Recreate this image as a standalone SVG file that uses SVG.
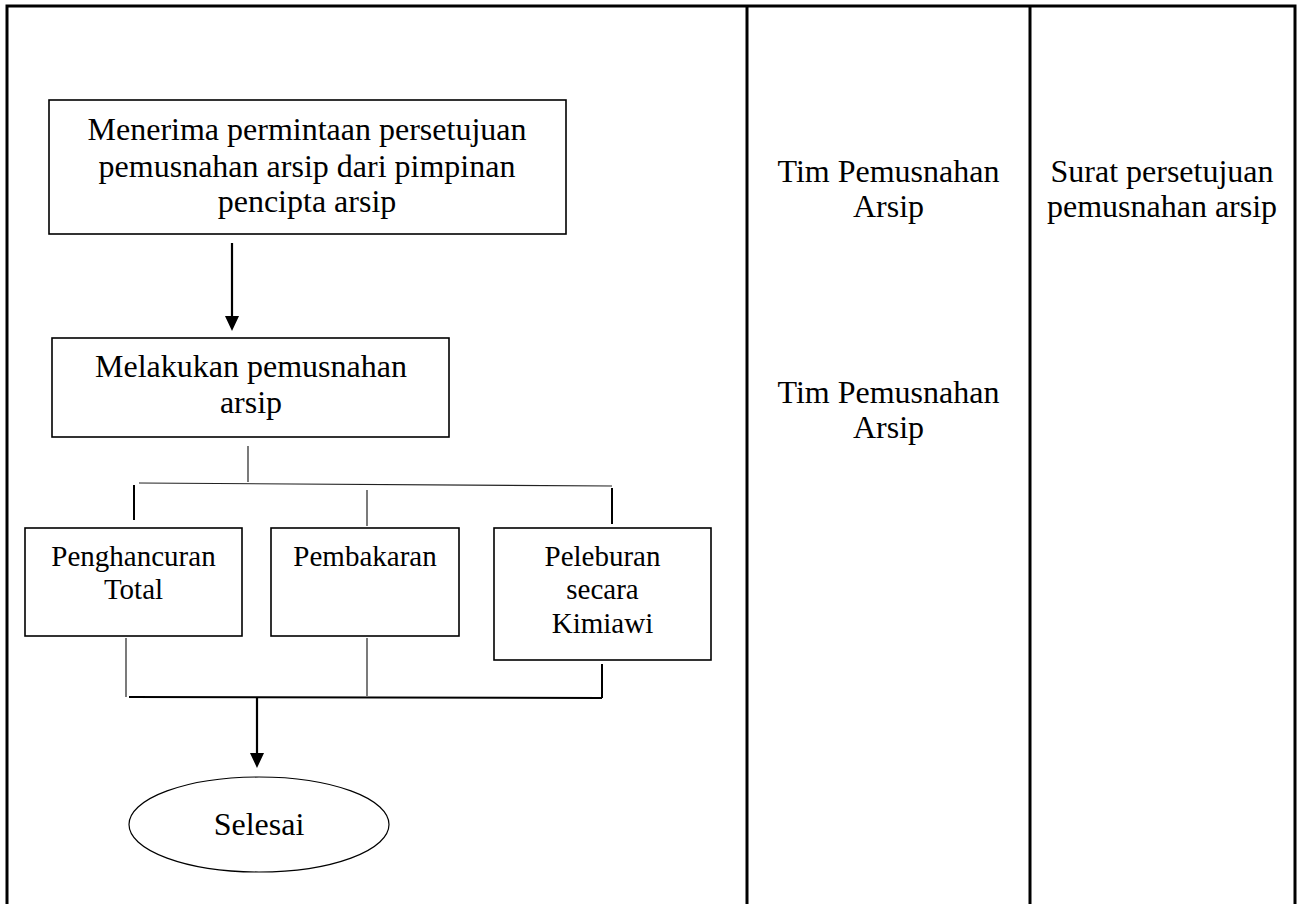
<svg xmlns="http://www.w3.org/2000/svg" width="1300" height="904" viewBox="0 0 1300 904">
<style>
  text { font-family: "Liberation Serif", "Times New Roman", serif; fill: #000; text-anchor: middle; }
  .t32 { font-size: 32px; }
  .t29 { font-size: 29px; }
  .box { fill: #fff; stroke: #000; stroke-width: 1.6; }
  .frame { fill: none; stroke: #000; stroke-width: 3; }
  .thin { fill: none; stroke: #222; stroke-width: 1.2; }
  .mid { fill: none; stroke: #000; stroke-width: 2; }
  .arrow { fill: none; stroke: #000; stroke-width: 2.2; }
</style>
<defs>
  <marker id="ah" markerWidth="14" markerHeight="15" refX="7" refY="0" orient="0" markerUnits="userSpaceOnUse" overflow="visible">
    <path d="M0,0 L14,0 L7,15 Z" fill="#000"/>
  </marker>
</defs>
<rect width="1300" height="904" fill="#fff"/>

<g id="table">
  <path class="frame" d="M7,906 L7,6 L1295,6 L1295,906"/>
  <line class="frame" x1="747" y1="6" x2="747" y2="906"/>
  <line class="frame" x1="1030" y1="6" x2="1030" y2="906"/>
</g>

<g id="connectors">
  <path class="arrow" d="M232,243 L232,316" marker-end="url(#ah)"/>
  <line class="thin" x1="248" y1="446" x2="248" y2="482"/>
  <path class="thin" d="M139,483 L612,486"/>
  <line class="mid" x1="134" y1="485" x2="134" y2="520"/>
  <line class="thin" x1="367" y1="490" x2="367" y2="526"/>
  <line class="mid" x1="612" y1="488" x2="612" y2="524"/>
  <line class="thin" x1="126" y1="638" x2="126" y2="697"/>
  <line class="thin" x1="367" y1="638" x2="367" y2="696"/>
  <line class="mid" x1="602" y1="664" x2="602" y2="698"/>
  <path class="mid" d="M129,697 L602,698"/>
  <path class="arrow" d="M257,698 L257,753" marker-end="url(#ah)"/>
</g>

<g id="n-menerima">
  <rect class="box" x="49" y="100" width="517" height="134"/>
  <text class="t32" x="307" y="140">Menerima permintaan persetujuan</text>
  <text class="t32" x="307" y="177">pemusnahan arsip dari pimpinan</text>
  <text class="t32" x="307" y="212">pencipta arsip</text>
</g>

<g id="n-melakukan">
  <rect class="box" x="52" y="338" width="397" height="99"/>
  <text class="t32" x="251" y="377">Melakukan pemusnahan</text>
  <text class="t32" x="251" y="413">arsip</text>
</g>

<g id="n-penghancuran">
  <rect class="box" x="25" y="528" width="217" height="108"/>
  <text class="t29" x="133.5" y="566">Penghancuran</text>
  <text class="t29" x="133.5" y="599">Total</text>
</g>

<g id="n-pembakaran">
  <rect class="box" x="271" y="528" width="188" height="108"/>
  <text class="t29" x="365" y="566">Pembakaran</text>
</g>

<g id="n-peleburan">
  <rect class="box" x="494" y="528" width="217" height="132"/>
  <text class="t29" x="602.5" y="566">Peleburan</text>
  <text class="t29" x="602.5" y="599">secara</text>
  <text class="t29" x="602.5" y="633">Kimiawi</text>
</g>

<g id="n-selesai">
  <ellipse cx="259" cy="824.5" rx="130" ry="47.5" fill="#fff" stroke="#000" stroke-width="1.2"/>
  <text class="t32" x="259" y="835">Selesai</text>
</g>

<g id="c-pelaksana-1">
  <text class="t32" x="888.5" y="182">Tim Pemusnahan</text>
  <text class="t32" x="888.5" y="217">Arsip</text>
</g>

<g id="c-pelaksana-2">
  <text class="t32" x="888.5" y="403">Tim Pemusnahan</text>
  <text class="t32" x="888.5" y="438">Arsip</text>
</g>

<g id="c-output">
  <text class="t32" x="1162" y="182">Surat persetujuan</text>
  <text class="t32" x="1162" y="217">pemusnahan arsip</text>
</g>
</svg>
